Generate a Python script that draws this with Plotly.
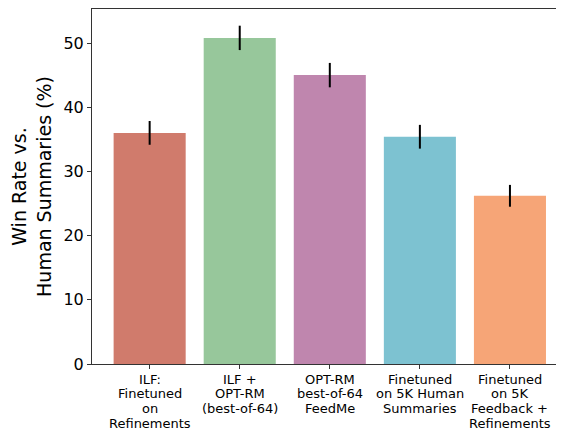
import plotly.graph_objects as go

category_lines = [
    ["ILF:", "Finetuned", "on", "Refinements"],
    ["ILF +", "OPT-RM", "(best-of-64)"],
    ["OPT-RM", "best-of-64", "FeedMe"],
    ["Finetuned", "on 5K Human", "Summaries"],
    ["Finetuned", "on 5K", "Feedback +", "Refinements"],
]
win_rates = [36.0, 50.8, 45.0, 35.4, 26.2]
errors = [1.85, 1.9, 1.9, 1.85, 1.7]
colors = ["#D07B6C", "#97C79B", "#BF86AE", "#7DC2D1", "#F6A577"]
y_ticks = [0, 10, 20, 30, 40, 50]

x = list(range(len(category_lines)))

fig = go.Figure()
fig.add_trace(go.Bar(
    x=x, y=win_rates, width=0.8,
    marker=dict(color=colors, line=dict(width=0)),
    error_y=dict(type="data", array=errors, visible=True, color="black",
                 thickness=2, width=0),
))

font = "DejaVu Sans, Arial, sans-serif"
annotations = []
for xi, lines in zip(x, category_lines):
    for j, line in enumerate(lines):
        annotations.append(dict(
            x=xi, xref="x", y=0, yref="paper", text=line, showarrow=False,
            xanchor="center", yanchor="middle", yshift=-15 - 14.75 * j,
            font=dict(size=13, family=font, color="black"),
        ))

# page body has an 8px margin, so margins are offset to compensate
fig.update_layout(
    width=564, height=429,
    margin=dict(l=84, r=8, t=1, b=73),
    paper_bgcolor="white", plot_bgcolor="white",
    showlegend=False,
    font=dict(family=font, color="black"),
    annotations=annotations,
    xaxis=dict(
        range=[-0.64, 4.6], tickmode="array", tickvals=x, showticklabels=False,
        automargin=False,
        showline=True, linecolor="#333", linewidth=1, mirror=True,
        ticks="outside", ticklen=4, tickcolor="#333", showgrid=False, zeroline=False,
    ),
    yaxis=dict(
        range=[0, 55.3], tickmode="array", tickvals=y_ticks, automargin=False,
        tickfont=dict(size=16, family=font, color="black"),
        showline=True, linecolor="#333", linewidth=1,
        ticks="outside", ticklen=4, tickcolor="#333", showgrid=False, zeroline=False,
        title=dict(text="Win Rate vs.<br>Human Summaries (%)",
                   font=dict(size=19, family=font, color="black"), standoff=8),
    ),
)

fig.write_html("out.html")
